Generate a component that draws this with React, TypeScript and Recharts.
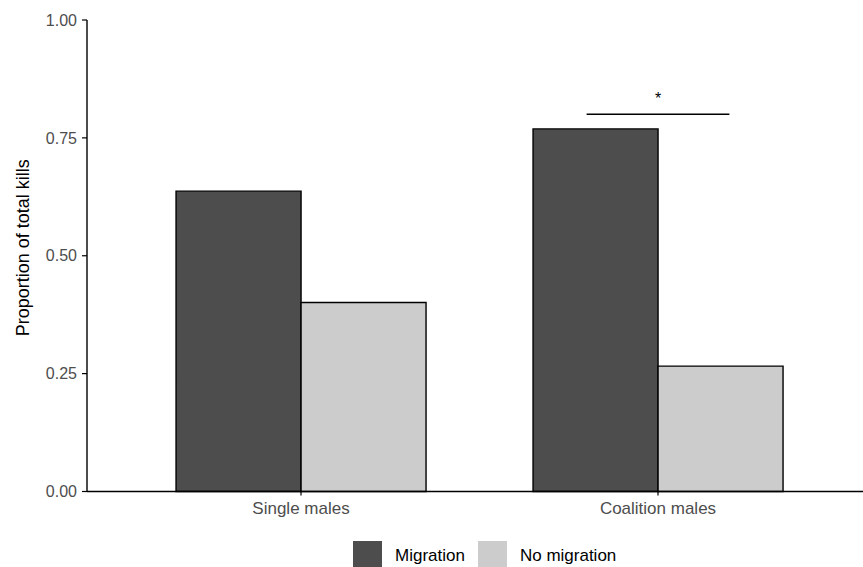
import React from "react";
import {
  Bar,
  BarChart,
  ReferenceArea,
  XAxis,
  YAxis,
} from "recharts";

const CATEGORIES = ["Single males", "Coalition males"];
const MIGRATION = [0.637, 0.769];
const NO_MIGRATION = [0.401, 0.266];
const Y_TICKS = [0, 0.25, 0.5, 0.75, 1];

const SERIES = [
  { key: "migration", label: "Migration", color: "#4d4d4d" },
  { key: "noMigration", label: "No migration", color: "#cccccc" },
] as const;

// significance bracket over coalition males; from/to are fractions of the category band
const BRACKET = { category: "Coalition males", from: 0.3, to: 0.7, y: 0.8, text: "*" };

const data = CATEGORIES.map((name, i) => ({
  name,
  migration: MIGRATION[i],
  noMigration: NO_MIGRATION[i],
}));

const FONT = "'Liberation Sans', Arial, sans-serif";

const YLabel = ({ viewBox }: any) => {
  const cy = viewBox.y + viewBox.height / 2 - 8;
  return (
    <text
      x={23}
      y={cy}
      transform={`rotate(-90 23 ${cy})`}
      textAnchor="middle"
      dominantBaseline="central"
      fontSize={18}
      fill="#000"
      fontFamily={FONT}
    >
      Proportion of total kills
    </text>
  );
};

const BracketShape = (props: any) => {
  const { x, y, width } = props;
  const x1 = x + width * BRACKET.from;
  const x2 = x + width * BRACKET.to;
  return (
    <g>
      <line x1={x1} x2={x2} y1={y} y2={y} stroke="#000" strokeWidth={1.4} />
      <text x={(x1 + x2) / 2} y={y - 10} textAnchor="middle" fontSize={16} fill="#000" fontFamily={FONT}>
        {BRACKET.text}
      </text>
    </g>
  );
};

export default function App() {
  return (
    <div style={{ position: "absolute", left: 0, top: 0, width: 863, height: 567, background: "#fff", fontFamily: FONT, overflow: "hidden" }}>
      <BarChart
        width={863}
        height={567}
        data={data}
        margin={{ top: 20, right: 0, bottom: 0, left: 0 }}
        barCategoryGap="15%"
        barGap={0}
      >
        <XAxis
          dataKey="name"
          height={75.5}
          padding={{ left: 35.5, right: 26.5 }}
          axisLine={{ stroke: "#000", strokeWidth: 1.4 }}
          tickLine={{ stroke: "#000", strokeWidth: 1.2 }}
          tickSize={4}
          tickMargin={6}
          tick={{ fill: "#4d4d4d", fontSize: 17, fontFamily: FONT }}
        />
        <YAxis
          width={87}
          domain={[0, 1]}
          ticks={Y_TICKS}
          tickFormatter={(v: number) => v.toFixed(2)}
          axisLine={{ stroke: "#000", strokeWidth: 1.4 }}
          tickLine={{ stroke: "#000", strokeWidth: 1.2 }}
          tickSize={5}
          tickMargin={5}
          tick={{ fill: "#4d4d4d", fontSize: 16, fontFamily: FONT }}
          label={<YLabel />}
        />
        {SERIES.map((s) => (
          <Bar
            key={s.key}
            dataKey={s.key}
            name={s.label}
            fill={s.color}
            stroke="#000"
            strokeWidth={1.4}
            isAnimationActive={false}
          />
        ))}
        <ReferenceArea
          x1={BRACKET.category}
          x2={BRACKET.category}
          y1={BRACKET.y}
          y2={BRACKET.y}
          shape={<BracketShape />}
        />
      </BarChart>
      <div style={{ position: "absolute", left: 353, top: 541, display: "flex", alignItems: "center", fontSize: 17, color: "#000" }}>
        {SERIES.map((s) => (
          <div key={s.key} style={{ display: "flex", alignItems: "center", marginRight: 13 }}>
            <div style={{ width: 29, height: 29, background: s.color, marginRight: 13 }} />
            <span>{s.label}</span>
          </div>
        ))}
      </div>
    </div>
  );
}
